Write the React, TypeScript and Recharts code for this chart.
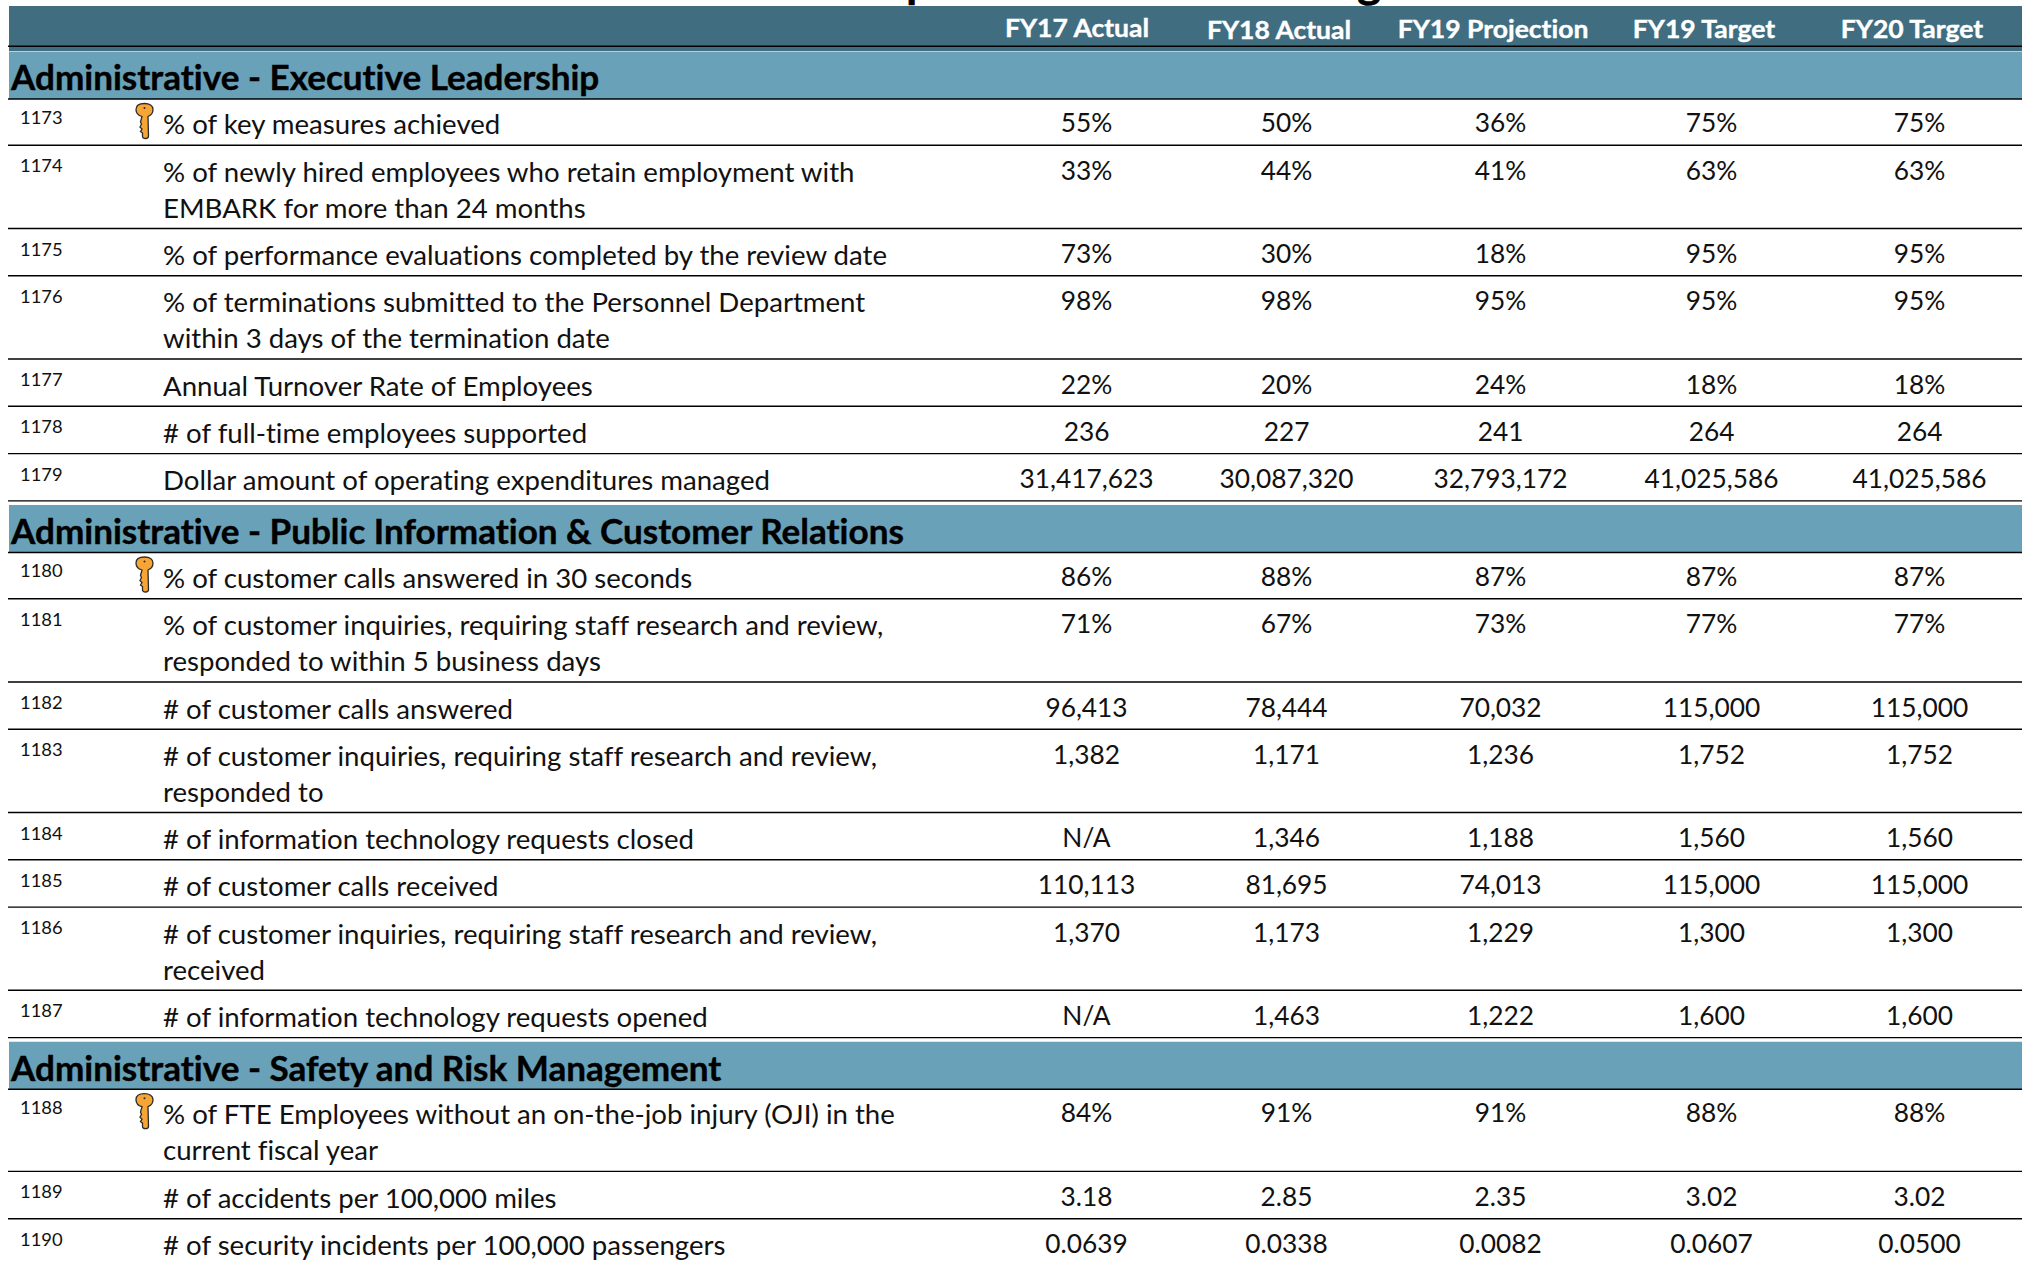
// App.tsx
import {
  ScatterChart,
  Scatter,
  XAxis,
  YAxis,
  ReferenceArea,
  ReferenceLine,
} from "recharts";

const columnHeaders = ["FY17 Actual", "FY18 Actual", "FY19 Projection", "FY19 Target", "FY20 Target"];
const titleFragments = ["p", "g"];

const sectionTitles = [
  "Administrative - Executive Leadership",
  "Administrative - Public Information & Customer Relations",
  "Administrative - Safety and Risk Management",
];
const sectionFirstIds = [1173, 1180, 1188];
const keyIds = [1173, 1180, 1188];

const rowIds = [
  1173, 1174, 1175, 1176, 1177, 1178, 1179, 1180, 1181, 1182, 1183, 1184, 1185, 1186, 1187, 1188, 1189, 1190,
];

const rowLabels = [
  ["% of key measures achieved"],
  ["% of newly hired employees who retain employment with", "EMBARK for more than 24 months"],
  ["% of performance evaluations completed by the review date"],
  ["% of terminations submitted to the Personnel Department", "within 3 days of the termination date"],
  ["Annual Turnover Rate of Employees"],
  ["# of full-time employees supported"],
  ["Dollar amount of operating expenditures managed"],
  ["% of customer calls answered in 30 seconds"],
  ["% of customer inquiries, requiring staff research and review,", "responded to within 5 business days"],
  ["# of customer calls answered"],
  ["# of customer inquiries, requiring staff research and review,", "responded to"],
  ["# of information technology requests closed"],
  ["# of customer calls received"],
  ["# of customer inquiries, requiring staff research and review,", "received"],
  ["# of information technology requests opened"],
  ["% of FTE Employees without an on-the-job injury (OJI) in the", "current fiscal year"],
  ["# of accidents per 100,000 miles"],
  ["# of security incidents per 100,000 passengers"],
];

const fy17Actual = ["55%", "33%", "73%", "98%", "22%", "236", "31,417,623", "86%", "71%", "96,413", "1,382", "N/A", "110,113", "1,370", "N/A", "84%", "3.18", "0.0639"];
const fy18Actual = ["50%", "44%", "30%", "98%", "20%", "227", "30,087,320", "88%", "67%", "78,444", "1,171", "1,346", "81,695", "1,173", "1,463", "91%", "2.85", "0.0338"];
const fy19Projection = ["36%", "41%", "18%", "95%", "24%", "241", "32,793,172", "87%", "73%", "70,032", "1,236", "1,188", "74,013", "1,229", "1,222", "91%", "2.35", "0.0082"];
const fy19Target = ["75%", "63%", "95%", "95%", "18%", "264", "41,025,586", "87%", "77%", "115,000", "1,752", "1,560", "115,000", "1,300", "1,600", "88%", "3.02", "0.0607"];
const fy20Target = ["75%", "63%", "95%", "95%", "18%", "264", "41,025,586", "87%", "77%", "115,000", "1,752", "1,560", "115,000", "1,300", "1,600", "88%", "3.02", "0.0500"];

const valueColumns = [fy17Actual, fy18Actual, fy19Projection, fy19Target, fy20Target];

// layout, all in axis units (the axes run 1:1 with the page)
const W = 2025;
const H = 1263;
const LEFT = 8;
const RIGHT = 2022;
const valueX = [1086.5, 1286.5, 1500.5, 1711.5, 1919.5];
const headerX = [1077, 1279, 1493, 1704, 1912];
const headerY = [37, 39, 38, 38, 38];
const ROW_H = 47.3;
const LINE_H = 35.9;
const BAND_GAP = 51.6;

type Row = { id: number; top: number; bottom: number; lines: string[]; first: boolean; index: number };
type Band = { title: string; top: number; bottom: number };

const rows: Row[] = [];
const bands: Band[] = [];
let cursor = 99;
rowIds.forEach((id, index) => {
  const sectionIndex = sectionFirstIds.indexOf(id);
  const first = sectionIndex >= 0;
  if (first) {
    if (sectionIndex > 0) cursor += BAND_GAP;
    bands.push({ title: sectionTitles[sectionIndex], top: cursor - 47.5, bottom: cursor });
  }
  const lines = rowLabels[index];
  const top = cursor;
  cursor += ROW_H + LINE_H * (lines.length - 1) - (first ? 1 : 0);
  rows.push({ id, top, bottom: cursor, lines, first, index });
});

const idPoints = rows.map((r) => ({ x: 20, y: r.top + (r.first ? 24.5 : 27), text: String(r.id) }));
const labelPoints = rows.flatMap((r) =>
  r.lines.map((text, i) => ({ x: 163, y: r.top + (r.first ? 35 : 36.5) + i * LINE_H, text })),
);
const keyPoints = rows.filter((r) => keyIds.includes(r.id)).map((r) => ({ x: 144.5, y: r.top + 22 }));
const bandPoints = bands.map((b, i) => ({ x: 11, y: b.bottom - (i === 0 ? 9.5 : 8.5), text: b.title }));
const headerPoints = columnHeaders.map((text, i) => ({ x: headerX[i], y: headerY[i], text }));
const titlePoints = [
  { x: 906, y: -3.5, text: titleFragments[0] },
  { x: 1357, y: -3.5, text: titleFragments[1] },
];

type TextProps = { cx?: number; cy?: number; payload?: { text: string } };

function makeText(
  fontSize: number,
  scaleX: number,
  anchor: "start" | "middle",
  fill: string,
  fontWeight: number = 400,
) {
  return function CellText({ cx, cy, payload }: TextProps) {
    return (
      <text
        transform={`translate(${cx},${cy}) scale(${scaleX},1)`}
        textAnchor={anchor}
        fontFamily="Lato"
        fontSize={fontSize}
        fontWeight={fontWeight}
        fill={fill}
        stroke={fontWeight > 400 ? fill : "none"}
        strokeWidth={0.4}
        style={{ fontVariantLigatures: "none" }}
      >
        {payload?.text}
      </text>
    );
  };
}

function KeyIcon({ cx, cy }: TextProps) {
  return (
    <g transform={`translate(${cx},${cy})`}>
      <path
        d="M-2.5 -4.5C-6 -5.5 -8.5 -8 -8.5 -11.5C-8.5 -15.5 -5 -17.5 0 -17.5C5 -17.5 8.5 -15.5 8.5 -11.5C8.5 -8 6 -5.5 3.5 -4.5L4 15C4 16.8 3 17.5 1 17.5C-1 17.5 -2 16.8 -2 15L-2 12L-4 10.5L-2.5 8L-4.5 6L-3 3L-4 1Z"
        fill="#F7A535"
        stroke="#2b2b2b"
        strokeWidth={1.3}
      />
      <circle cx={0} cy={-13} r={1} fill="#2b2b2b" />
    </g>
  );
}

const HeaderText = makeText(25.5, 1.04, "middle", "#ffffff", 700);
const BandText = makeText(34, 1.032, "start", "#000000", 700);
const IdText = makeText(18, 1.02, "start", "#111111");
const LabelText = makeText(26.5, 1.042, "start", "#111111");
const ValueText = makeText(26.5, 0.993, "middle", "#111111");
const TitleText = makeText(46, 1, "start", "#000000", 700);

export default function App() {
  return (
    <div style={{ width: W, height: H, background: "#fff" }}>
      <style>{"body{margin:0}"}</style>
      <ScatterChart width={W} height={H} margin={{ top: 0, right: 0, bottom: 0, left: 0 }}>
        <XAxis type="number" dataKey="x" domain={[0, W]} hide allowDataOverflow />
        <YAxis type="number" dataKey="y" domain={[0, H]} reversed hide allowDataOverflow />

        {/* Header band */}
        <ReferenceArea x1={9} x2={RIGHT} y1={6} y2={51} fill="#406D80" fillOpacity={1} stroke="none" />
        <ReferenceLine segment={[{ x: LEFT, y: 46.3 }, { x: RIGHT, y: 46.3 }]} stroke="#000" strokeWidth={1.4} />

        {/* Section bands */}
        {bands.map((b) => (
          <ReferenceArea
            key={b.title}
            x1={9}
            x2={RIGHT}
            y1={b.top}
            y2={b.bottom}
            fill="#69A2B8"
            fillOpacity={1}
            stroke="none"
          />
        ))}
        {bands.map((b) => (
          <ReferenceLine
            key={b.title}
            segment={[{ x: LEFT, y: b.bottom }, { x: RIGHT, y: b.bottom }]}
            stroke="#000"
            strokeWidth={1.4}
          />
        ))}

        {/* Row rules, the last row has none (cut off by the page) */}
        {rows.slice(0, -1).map((r) => (
          <ReferenceLine
            key={r.id}
            segment={[{ x: LEFT, y: r.bottom }, { x: RIGHT, y: r.bottom }]}
            stroke="#000"
            strokeWidth={1.4}
          />
        ))}

        <Scatter data={titlePoints} shape={TitleText} isAnimationActive={false} />
        <Scatter data={headerPoints} shape={HeaderText} isAnimationActive={false} />
        <Scatter data={bandPoints} shape={BandText} isAnimationActive={false} />
        <Scatter data={idPoints} shape={IdText} isAnimationActive={false} />
        <Scatter data={keyPoints} shape={KeyIcon} isAnimationActive={false} />
        <Scatter data={labelPoints} shape={LabelText} isAnimationActive={false} />
        {valueColumns.map((values, c) => (
          <Scatter
            key={columnHeaders[c]}
            data={rows.map((r) => ({
              x: valueX[c],
              y: r.top + (r.first ? 33 : 34.5),
              text: values[r.index],
            }))}
            shape={ValueText}
            isAnimationActive={false}
          />
        ))}
      </ScatterChart>
    </div>
  );
}
